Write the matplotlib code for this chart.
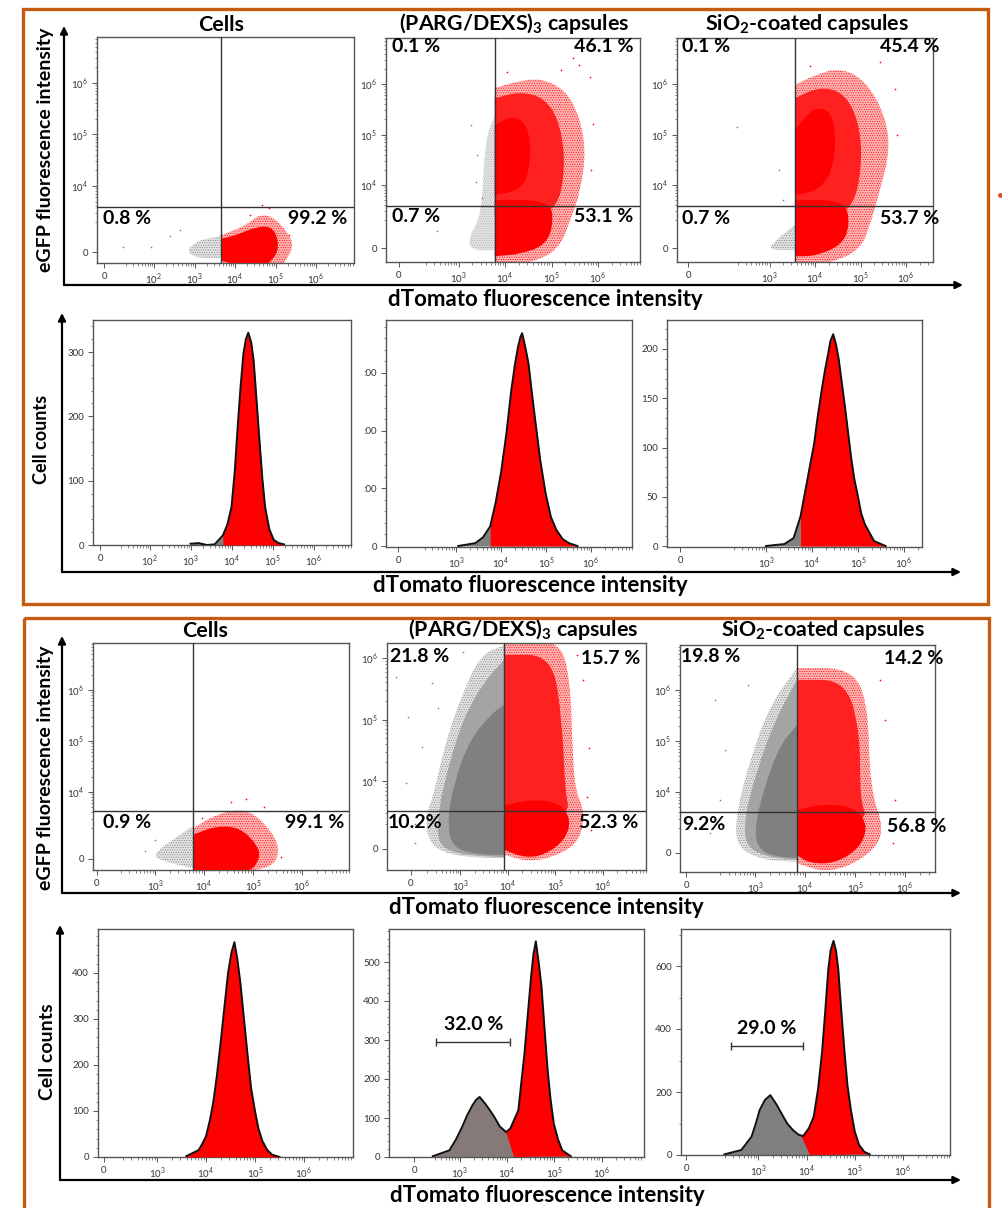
import numpy as np
import matplotlib
matplotlib.use('Agg')
import matplotlib.pyplot as plt
from matplotlib.patches import PathPatch, Rectangle
from matplotlib.path import Path

plt.rcParams['font.family'] = ['Lato', 'DejaVu Sans']
plt.rcParams['mathtext.fontset'] = 'custom'
plt.rcParams['mathtext.rm'] = 'Lato'
plt.rcParams['mathtext.bf'] = 'Lato:bold'
plt.rcParams['hatch.linewidth'] = 0.4

W, H = 1002, 1208

# clouds are outlines, in decades of intensity
a1_gray = [(2.8, 2.75), (3.1, 2.95), (3.5, 3.0), (3.68, 3.05), (3.68, 2.6), (3.3, 2.6), (3.0, 2.62)]
a1_outer = [(3.68, 2.4), (3.68, 3.05), (4.0, 3.15), (4.3, 3.25), (4.6, 3.45), (4.95, 3.4), (5.3, 3.1),
            (5.45, 2.85), (5.3, 2.6), (5.1, 2.4)]
a1_core = [(3.68, 2.55), (3.68, 2.98), (4.05, 3.05), (4.5, 3.2), (4.9, 3.22), (5.08, 2.95), (5.03, 2.65),
           (4.7, 2.42), (4.3, 2.42), (4.0, 2.47)]
a1_gray_dots = [(1.24, 2.82), (1.93, 2.82), (2.4, 3.02), (2.65, 3.15)]
a1_red_dots = [(4.66, 3.63), (4.85, 3.57), (4.37, 3.43), (5.34, 3.04)]

a2_gray = [(3.57, 4.89), (3.78, 5.39), (3.78, 2.71), (3.24, 2.71), (3.24, 3.01), (3.5, 3.41)]
a2_outer = [(3.78, 5.92), (4.22, 6.04), (4.76, 6.12), (5.30, 5.88), (5.59, 5.39), (5.74, 4.69), (5.63, 3.90),
            (5.41, 3.31), (5.15, 2.71), (4.54, 2.45), (3.78, 2.4)]
a2_mid = [(3.78, 5.72), (4.33, 5.85), (4.87, 5.72), (5.2, 5.19), (5.3, 4.3), (5.11, 3.5), (4.5, 3.4), (3.78, 3.4)]
a2_core = [(3.78, 3.7), (4.98, 3.7), (5.04, 3.21), (4.87, 2.81), (4.33, 2.63), (3.78, 2.59)]
a2_upper = [(3.78, 5.19), (4.22, 5.39), (4.54, 5.09), (4.54, 4.3), (4.33, 3.9), (3.78, 3.8)]
a2_gray_dots = [(3.26, 5.19), (3.37, 4.06), (2.54, 3.09), (3.4, 4.6), (3.5, 3.75)]
a2_red_dots = [(5.46, 6.51), (5.2, 6.28), (5.83, 6.14), (5.6, 6.38), (4.04, 6.24), (5.9, 5.2), (5.85, 4.3)]

a3_gray = [(3.01, 2.81), (3.56, 3.21), (3.56, 2.71), (3.05, 2.71)]
a3_outer = [(3.56, 5.98), (4.0, 6.18), (4.55, 6.32), (5.1, 6.08), (5.54, 5.39), (5.65, 4.69), (5.43, 3.90),
            (5.21, 3.21), (4.99, 2.71), (4.33, 2.45), (3.56, 2.4)]
a3_mid = [(3.56, 5.72), (4.11, 5.95), (4.66, 5.82), (4.99, 5.19), (5.03, 4.3), (4.81, 3.5), (4.2, 3.4), (3.56, 3.4)]
a3_core = [(3.56, 3.7), (4.66, 3.7), (4.77, 3.21), (4.59, 2.81), (4.0, 2.59), (3.56, 2.59)]
a3_upper = [(3.56, 5.09), (4.0, 5.58), (4.44, 5.39), (4.44, 4.4), (4.11, 3.9), (3.56, 3.8)]
a3_gray_dots = [(2.29, 5.15), (3.2, 4.3), (3.3, 3.7)]
a3_red_dots = [(5.43, 6.44), (5.75, 5.9), (5.8, 5.0), (3.9, 6.35)]

c1_gray = [(2.93, 2.76), (3.41, 3.1), (3.78, 3.33), (3.78, 2.51), (3.21, 2.63)]
c1_outer = [(3.78, 3.29), (4.22, 3.55), (4.83, 3.69), (5.29, 3.35), (5.58, 2.86), (5.33, 2.45), (3.78, 2.4)]
c1_core = [(3.78, 3.16), (4.22, 3.33), (4.73, 3.31), (5.09, 2.96), (5.15, 2.71), (4.93, 2.4), (3.78, 2.4)]
c1_red_dots = [(4.85, 3.86), (5.23, 3.71), (3.96, 3.49), (5.58, 2.73), (4.55, 3.8)]
c1_gray_dots = [(2.8, 2.85), (3.0, 3.05)]

c2_gray_outer = [(3.92, 6.21), (3.41, 6.05), (2.99, 5.32), (2.67, 4.59), (2.46, 3.85), (2.25, 3.37), (2.36, 2.96),
                 (2.78, 2.8), (3.41, 2.75), (3.92, 2.75)]
c2_gray_mid = [(3.92, 5.97), (3.52, 5.64), (3.09, 5.07), (2.78, 4.34), (2.53, 3.53), (2.51, 2.96), (2.99, 2.8),
               (3.92, 2.76)]
c2_gray_core = [(3.92, 5.24), (3.62, 5.07), (3.2, 4.67), (2.88, 4.02), (2.72, 3.37), (2.82, 2.91), (3.41, 2.8),
                (3.92, 2.8)]
c2_outer = [(3.92, 6.3), (5.09, 6.3), (5.31, 5.64), (5.35, 4.67), (5.41, 3.85), (5.62, 3.5), (5.52, 3.04),
            (5.09, 2.8), (4.46, 2.68), (3.92, 2.8)]
c2_mid = [(3.92, 6.05), (4.93, 6.05), (5.14, 4.99), (5.2, 3.85), (5.31, 3.45), (4.5, 3.4), (3.92, 3.4)]
c2_core = [(3.92, 3.6), (4.46, 3.7), (5.09, 3.65), (5.33, 3.37), (5.2, 3.04), (4.78, 2.8), (4.36, 2.75), (3.92, 2.88)]
c2_gray_dots = [(1.64, 5.69), (1.89, 5.04), (1.85, 3.97), (2.29, 3.41), (2.04, 2.99), (3.05, 6.1), (2.53, 5.19),
                (2.2, 4.55), (2.4, 5.6), (2.05, 3.3)]
c2_red_dots = [(5.71, 4.54), (5.66, 3.74), (5.58, 5.64), (5.45, 6.05), (5.75, 3.2)]

c3_gray_outer = [(3.84, 6.43), (3.3, 5.71), (2.9, 4.63), (2.64, 3.65), (2.6, 2.96), (3.1, 2.67), (3.84, 2.63)]
c3_gray_mid = [(3.84, 6.2), (3.4, 5.41), (3.04, 4.43), (2.8, 3.55), (2.8, 2.96), (3.2, 2.73), (3.84, 2.67)]
c3_gray_core = [(3.84, 5.31), (3.5, 4.92), (3.2, 4.14), (3.0, 3.35), (3.04, 2.9), (3.4, 2.73), (3.84, 2.71)]
c3_outer = [(3.84, 6.43), (4.9, 6.43), (5.26, 5.8), (5.3, 4.04), (5.6, 3.25), (5.3, 2.76), (4.5, 2.4), (3.84, 2.6)]
c3_mid = [(3.84, 6.2), (4.8, 6.2), (5.1, 5.22), (5.1, 3.84), (5.26, 3.45), (4.5, 3.45), (3.84, 3.45)]
c3_core = [(3.84, 3.65), (4.4, 3.77), (5.0, 3.7), (5.26, 3.35), (5.1, 2.9), (4.6, 2.6), (4.1, 2.6), (3.84, 2.76)]
c3_gray_dots = [(2.2, 5.8), (2.4, 4.82), (1.9, 6.59), (2.3, 3.84), (2.1, 3.2), (2.85, 6.1)]
c3_red_dots = [(5.6, 5.41), (5.8, 3.84), (5.5, 6.2), (5.75, 3.0)]

# histograms: decades on x, cell counts on y
b1_x = [3.0, 3.2, 3.4, 3.59, 3.79, 3.9, 4.0, 4.08, 4.15, 4.22, 4.29, 4.35, 4.41, 4.48, 4.54, 4.6, 4.67, 4.75, 4.82,
        4.92, 5.03, 5.15, 5.28]
b1_y = [2, 3, 0, 1, 15, 32, 59, 115, 183, 245, 297, 320, 330, 315, 287, 235, 173, 105, 59, 25, 8, 3, 1]
b2_x = [3.05, 3.43, 3.6, 3.76, 3.88, 4.0, 4.12, 4.23, 4.31, 4.38, 4.43, 4.47, 4.54, 4.61, 4.68, 4.75, 4.87, 4.99,
        5.11, 5.23, 5.37, 5.51, 5.70]
b2_y = [0, 5, 15, 34, 75, 127, 195, 271, 315, 346, 362, 369, 345, 317, 270, 225, 150, 92, 50, 28, 12, 5, 0]
b3_x = [3.0, 3.4, 3.6, 3.75, 3.85, 4.05, 4.12, 4.2, 4.28, 4.35, 4.4, 4.46, 4.52, 4.58, 4.65, 4.72, 4.85, 4.92, 5.0,
        5.07, 5.15, 5.35, 5.6]
b3_y = [0, 2, 8, 30, 55, 105, 130, 155, 178, 195, 208, 215, 205, 190, 165, 140, 90, 68, 50, 33, 22, 5, 0]
d1_x = [3.6, 3.85, 3.92, 4.0, 4.08, 4.15, 4.22, 4.3, 4.38, 4.45, 4.52, 4.58, 4.64, 4.7, 4.78, 4.85, 4.92, 5.0, 5.07,
        5.15, 5.25, 5.35, 5.5]
d1_y = [2, 15, 28, 45, 80, 120, 175, 250, 330, 400, 445, 467, 430, 380, 295, 220, 150, 100, 62, 35, 15, 5, 0]
d2_x = [2.43, 2.78, 2.92, 3.05, 3.15, 3.27, 3.35, 3.42, 3.55, 3.71, 3.85, 3.98, 4.07, 4.24, 4.37, 4.44, 4.51, 4.56,
        4.61, 4.67, 4.73, 4.8, 4.86, 4.92, 4.99, 5.08, 5.17, 5.35]
d2_y = [2, 17, 45, 77, 105, 133, 147, 154, 135, 107, 78, 64, 73, 120, 266, 365, 463, 520, 553, 500, 437, 320, 223,
        150, 86, 45, 17, 2]
d3_x = [2.30, 2.65, 2.86, 2.95, 3.03, 3.14, 3.25, 3.38, 3.50, 3.6, 3.72, 3.83, 3.93, 4.05, 4.15, 4.24, 4.32, 4.39,
        4.45, 4.5, 4.56, 4.61, 4.66, 4.72, 4.79, 4.85, 4.92, 5.0, 5.09, 5.2, 5.31]
d3_y = [2, 16, 58, 100, 143, 175, 190, 160, 127, 100, 79, 65, 60, 85, 122, 210, 323, 460, 587, 650, 680, 650, 587,
        460, 323, 220, 143, 75, 32, 10, 2]

# where the red part of each histogram starts
b1_red_from = 3.6
b2_red_from = 3.76
b3_red_from = 3.7
d1_red_from = 3.6
d2_gate = [(4.15, 0), (3.98, 64)]
d3_gate = [(4.07, 0), (3.89, 62)]

RED = '#ff0000'
GRAY = '#808080'
LINE = '#555555'
ORANGE = '#c55a11'

fig = plt.figure(figsize=(W / 100, H / 100), dpi=100)
bg = fig.add_axes([0, 0, 1, 1])
bg.set_xlim(0, W)
bg.set_ylim(H, 0)
bg.axis('off')


def make_axes(box):
    l, t, r, b = box
    ax = fig.add_axes([l / W, 1 - b / H, (r - l) / W, (b - t) / H])
    for s in ax.spines.values():
        s.set_color(LINE)
        s.set_linewidth(1.0)
    ax.tick_params(which='major', length=3.5, width=0.7, color=LINE, labelcolor='#333333', labelsize=7, pad=3)
    ax.tick_params(which='minor', length=1.8, width=0.5, color=LINE)
    return ax


def decade_x(ax, box, px, labels):
    # px holds the pixel of the zero tick, then of one tick per decade in labels
    d = (px[-1] - px[-3]) / 2
    k = px[-3]
    ax.set_xlim(4 + (box[0] - k) / d, 4 + (box[2] - k) / d)
    z = 4 + (px[0] - k) / d
    ax.set_xticks([z] + labels)
    ax.set_xticklabels(['0'] + ['$10^{%d}$' % n for n in labels])
    minor = [n + np.log10(m) for n in range(labels[0] - 1, 7) for m in range(2, 10)]
    lim = ax.get_xlim()
    ax.set_xticks([m for m in minor if z + 0.3 < m < lim[1]], minor=True)


def scatter_panel(box, xpx, labels, ypx, vline, hline):
    ax = make_axes(box)
    decade_x(ax, box, xpx, labels)
    d = (ypx[1] - ypx[3]) / 2
    k = ypx[1]
    ax.set_ylim(4 + (k - box[3]) / d, 4 + (k - box[1]) / d)
    z = 4 + (k - ypx[0]) / d
    ax.set_yticks([z, 4, 5, 6])
    ax.set_yticklabels(['0', '$10^{4}$', '$10^{5}$', '$10^{6}$'])
    minor = [n + np.log10(m) for n in range(3, 7) for m in range(2, 10)]
    ax.set_yticks([m for m in minor if z + 0.3 < m < ax.get_ylim()[1]], minor=True)
    ax.axvline(4 + (vline - xpx[-3]) / ((xpx[-1] - xpx[-3]) / 2), color='#333333', lw=1.0, zorder=5)
    ax.axhline(4 + (k - hline) / d, color='#333333', lw=1.0, zorder=5)
    return ax


def cloud(ax, pts, face, speck=None, z=2):
    # round the outline off, but keep corners sitting on the vertical gate line
    xs = [p[0] for p in pts]
    gate = max(xs) if face in GRAYS else min(xs)
    n = len(pts)
    mids = [((pts[i][0] + pts[(i + 1) % n][0]) / 2, (pts[i][1] + pts[(i + 1) % n][1]) / 2) for i in range(n)]
    verts = [mids[-1]]
    codes = [Path.MOVETO]
    for i in range(n):
        if pts[i][0] == gate:
            verts += [pts[i], mids[i]]
            codes += [Path.LINETO, Path.LINETO]
        else:
            verts += [pts[i], mids[i]]
            codes += [Path.CURVE3, Path.CURVE3]
    ax.add_patch(PathPatch(Path(verts, codes), facecolor=face, edgecolor=speck if speck else face,
                           lw=0, hatch='.......' if speck else None, zorder=z))


def dots(ax, pts, color):
    xs, ys = zip(*pts)
    ax.plot(xs, ys, ls='none', marker='o', ms=1.2, mew=0, color=color, zorder=2)


def hist_panel(box, xpx, labels, ypx, yticks, ylabels, minor_step):
    ax = make_axes(box)
    decade_x(ax, box, xpx, labels)
    per = (ypx[0] - ypx[-1]) / (yticks[-1] - yticks[0])
    ax.set_ylim((ypx[0] - box[3]) / per, (ypx[0] - box[1]) / per)
    ax.set_yticks(yticks)
    ax.set_yticklabels(ylabels)
    ax.set_yticks(np.arange(0, ax.get_ylim()[1], minor_step), minor=True)
    return ax


def histogram(ax, xs, ys, red_from=None, gate=None, gray=GRAY):
    xs = np.array(xs)
    ys = np.array(ys)
    ax.fill_between(xs, 0, ys, color=gray, lw=0, zorder=2)
    if gate is None:
        keep = xs >= red_from
        ax.fill_between(xs[keep], 0, ys[keep], color=RED, lw=0, zorder=3)
    else:
        keep = xs > gate[1][0]
        rx = [gate[0][0], gate[1][0]] + list(xs[keep])
        ry = [gate[0][1], gate[1][1]] + list(ys[keep])
        ax.fill(rx, ry, color=RED, lw=0, zorder=3)
    ax.plot(xs, ys, color='#111111', lw=1.4, zorder=4)


G_OUT = '#e2e2e2'
G_MID = '#a4a4a4'
GRAYS = (G_OUT, G_MID, GRAY)
R_OUT = '#ffb4b4'
R_MID = '#ff2020'

# top block, scatter row
ax = scatter_panel((97, 37, 354, 263), [104, 151, 193, 235, 275, 316], [2, 3, 4, 5, 6], [252, 186, 134, 83], 221, 207)
cloud(ax, a1_gray, G_OUT, GRAY)
cloud(ax, a1_outer, R_OUT, RED)
cloud(ax, a1_core, RED, z=3)
dots(ax, a1_gray_dots, GRAY)
dots(ax, a1_red_dots, RED)

ax = scatter_panel((386, 38, 640, 262), [399, 459, 505, 551, 598], [3, 4, 5, 6], [248, 185, 134, 84], 495, 206)
cloud(ax, a2_gray, '#e2e2e2', '#b0b0b0')
cloud(ax, a2_outer, R_OUT, RED)
cloud(ax, a2_mid, R_MID, z=3)
cloud(ax, a2_core, RED, z=4)
cloud(ax, a2_upper, RED, z=4)
dots(ax, a2_gray_dots, GRAY)
dots(ax, a2_red_dots, RED)

ax = scatter_panel((677, 38, 933, 262), [688, 770, 815, 860, 906], [3, 4, 5, 6], [248, 185, 134, 84], 795, 206)
cloud(ax, a3_gray, G_OUT, GRAY)
cloud(ax, a3_outer, R_OUT, RED)
cloud(ax, a3_mid, R_MID, z=3)
cloud(ax, a3_core, RED, z=4)
cloud(ax, a3_upper, RED, z=4)
dots(ax, a3_gray_dots, GRAY)
dots(ax, a3_red_dots, RED)

# top block, histograms
ax = hist_panel((93, 320, 351, 545), [100, 148, 191, 231.5, 273, 313.5], [2, 3, 4, 5, 6], [545, 481, 416, 352],
                [0, 100, 200, 300], ['0', '100', '200', '300'], 20)
histogram(ax, b1_x, b1_y, b1_red_from)

ax = hist_panel((386, 320, 632, 546.5), [398, 455, 501, 545.5, 591], [3, 4, 5, 6], [546, 488, 431, 373],
                [0, 100, 200, 300], ['0', ':00', ':00', ':00'], 20)
histogram(ax, b2_x, b2_y, b2_red_from)

ax = hist_panel((667, 320, 922, 547), [680, 767, 812, 858, 904], [3, 4, 5, 6], [546, 497, 448, 398, 349],
                [0, 50, 100, 150, 200], ['0', '50', '100', '150', '200'], 10)
histogram(ax, b3_x, b3_y, b3_red_from)

# lower block, scatter row
ax = scatter_panel((93, 643, 349, 870), [97, 151, 204, 253, 302], [3, 4, 5, 6], [859, 792, 740, 690], 193, 811)
cloud(ax, c1_gray, G_OUT, GRAY)
cloud(ax, c1_outer, R_OUT, RED)
cloud(ax, c1_core, RED, z=3)
dots(ax, c1_gray_dots, GRAY)
dots(ax, c1_red_dots, RED)

ax = scatter_panel((387, 643, 646, 870), [411, 455, 508, 555.5, 603], [3, 4, 5, 6], [849, 781, 717, 658], 504, 811)
cloud(ax, c2_gray_outer, G_OUT, GRAY)
cloud(ax, c2_gray_mid, G_MID, z=3)
cloud(ax, c2_gray_core, GRAY, z=4)
cloud(ax, c2_outer, R_OUT, RED)
cloud(ax, c2_mid, R_MID, z=3)
cloud(ax, c2_core, RED, z=4)
dots(ax, c2_gray_dots, GRAY)
dots(ax, c2_red_dots, RED)

ax = scatter_panel((680, 645, 935, 872), [686, 756, 805, 855, 905], [3, 4, 5, 6], [853, 792, 739, 690], 797, 812)
cloud(ax, c3_gray_outer, G_OUT, GRAY)
cloud(ax, c3_gray_mid, G_MID, z=3)
cloud(ax, c3_gray_core, GRAY, z=4)
cloud(ax, c3_outer, R_OUT, RED)
cloud(ax, c3_mid, R_MID, z=3)
cloud(ax, c3_core, RED, z=4)
dots(ax, c3_gray_dots, GRAY)
dots(ax, c3_red_dots, RED)

# lower block, histograms
ax = hist_panel((98, 929, 353, 1157), [104, 155, 206, 256, 304], [3, 4, 5, 6], [1157, 1111, 1065, 1019, 973],
                [0, 100, 200, 300, 400], ['0', '100', '200', '300', '400'], 20)
histogram(ax, d1_x, d1_y, d1_red_from)

ax = hist_panel((389, 929, 644, 1157), [414, 456, 507, 554, 601.5], [3, 4, 5, 6], [1157, 1118, 1079, 1040, 1001.5, 962],
                [0, 100, 200, 300, 400, 500], ['0', '100', '200', '300', '400', '500'], 20)
histogram(ax, d2_x, d2_y, gate=d2_gate, gray='#857a78')
ax.errorbar([(2.49 + 4.06) / 2], [294], xerr=[(4.06 - 2.49) / 2], color='#333333', lw=1, capsize=3, zorder=6)

ax = hist_panel((681, 929, 950, 1155), [686, 757.5, 806.5, 855, 903], [3, 4, 5, 6], [1155, 1092, 1029, 966],
                [0, 200, 400, 600], ['0', '200', '400', '600'], 100)
histogram(ax, d3_x, d3_y, gate=d3_gate)
ax.errorbar([(2.43 + 3.93) / 2], [346], xerr=[(3.93 - 2.43) / 2], color='#333333', lw=1, capsize=3, zorder=6)

# frames, arrows and text sit on the figure-wide axes
bg.add_patch(Rectangle((23.5, 8.5), 965, 595, fill=False, ec=ORANGE, lw=2.4))
bg.add_patch(Rectangle((24.5, 617.5), 965, 620, fill=False, ec=ORANGE, lw=2.4))
bg.plot([1000], [195], 'o', ms=2.5, color='#d9531e')


def arrows(x, ytop, y, xend):
    style = dict(arrowstyle='-|>', color='black', lw=1.6, mutation_scale=11, shrinkA=0, shrinkB=0)
    bg.annotate('', xy=(x, ytop), xytext=(x, y), arrowprops=style)
    bg.annotate('', xy=(xend, y), xytext=(x, y), arrowprops=style)


arrows(64, 26, 285, 963)
arrows(62, 313, 572, 961)
arrows(62, 636, 893, 961)
arrows(60, 925, 1180, 961)

tb = dict(fontweight='bold', ha='center', va='center', color='black')
PARG = r'(PARG/DEXS)$\mathbf{_3}$ capsules'
SIO2 = r'SiO$\mathbf{_2}$-coated capsules'
for x, y, s in [(221, 25, 'Cells'), (514, 24, PARG), (807, 24, SIO2),
                (205, 631, 'Cells'), (523, 630, PARG), (823, 630, SIO2)]:
    bg.text(x, y, s, fontsize=15.4, **tb)
for x, y in [(545, 300), (530, 586), (546, 907), (547, 1195)]:
    bg.text(x, y, 'dTomato fluorescence intensity', fontsize=16, **tb)
for x, y in [(46, 150), (46, 768)]:
    bg.text(x, y, 'eGFP fluorescence intensity', fontsize=14, rotation=90, **tb)
bg.text(42, 439, 'Cell counts', fontsize=13, rotation=90, **tb)
bg.text(48, 1052, 'Cell counts', fontsize=14, rotation=90, **tb)

for x, y, s in [(127, 218, '0.8 %'), (318, 218, '99.2 %'), (416, 47, '0.1 %'), (604, 47, '46.1 %'),
                (416, 216, '0.7 %'), (604, 216, '53.1 %'), (706, 47, '0.1 %'), (910, 47, '45.4 %'),
                (706, 218, '0.7 %'), (910, 218, '53.7 %'), (127, 822, '0.9 %'), (315, 822, '99.1 %'),
                (420, 657, '21.8 %'), (611, 658, '15.7 %'), (415, 823, '10.2%'), (609, 823, '52.3 %'),
                (711, 657, '19.8 %'), (914, 658, '14.2 %'), (704, 825, '9.2%'), (917, 826, '56.8 %'),
                (474, 1024, '32.0 %'), (767, 1028, '29.0 %')]:
    bg.text(x, y, s, fontsize=14, zorder=20, **tb)

bg.set_zorder(10)
bg.patch.set_alpha(0)
fig.savefig('out.png', dpi=100)
